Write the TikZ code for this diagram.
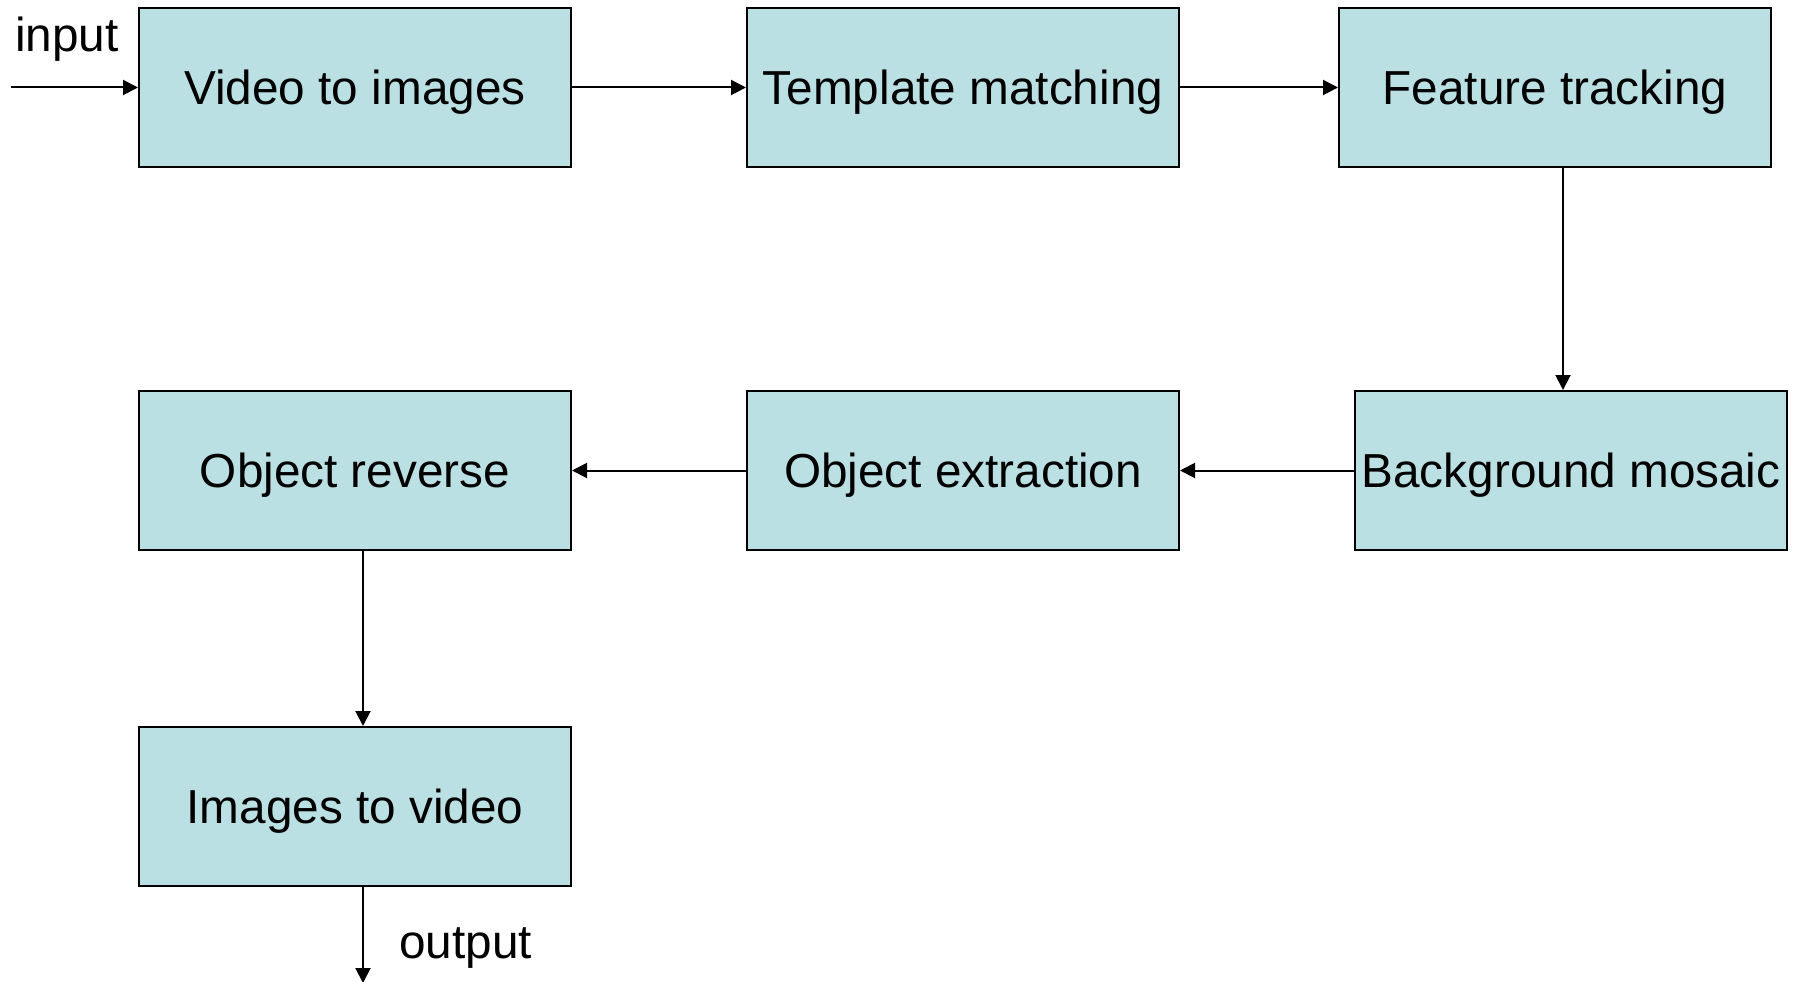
\documentclass[tikz,border=0pt]{standalone}
\usepackage{fontspec}
\setmainfont{Liberation Sans}
\usepackage{xcolor}
\usepackage{tikz}
\usetikzlibrary{positioning, arrows.meta}
\usetikzlibrary{calc}
\definecolor{boxfill}{RGB}{186,224,227}

\begin{document}
\begin{tikzpicture}[
        block/.style={rectangle, minimum width=432pt, minimum height=159pt, inner sep=0pt, text centered, text height=34pt, text depth=0pt, draw=black, line width=2pt, fill=boxfill, font=\fontsize{47.7}{57}\selectfont},
        lbl/.style={inner sep=0pt, font=\fontsize{47.7}{57}\selectfont},
        arrow/.style={line width=2pt, -{Triangle[length=15pt, width=15pt]}}
    ]
        \useasboundingbox (0,0) rectangle (1805pt,-982pt);

        % ===== 第一行 =====
        \node (vid2img) [block] at (355pt,-87.5pt) {Video to images};
        \node (tmatch) [block, right=174pt of vid2img] {Template matching};
        \node (ftrack) [block, right=158pt of tmatch] {Feature tracking};

        % ===== 第二行 =====
        \node (bgmosaic) [block, below=222pt of ftrack, xshift=16pt] {Background mosaic};
        \node (objext) [block, below=222pt of tmatch] {Object extraction};
        \node (objrev) [block, below=222pt of vid2img] {Object reverse};

        % ===== 第三行 =====
        \node (img2vid) [block, below=175pt of objrev] {Images to video};

        % ===== 输入输出 =====
        \coordinate (inStart) at (11pt,-87.5pt);
        \coordinate (ftOut) at ($(ftrack.south)+(8pt,0)$);
        \coordinate (revOut) at ($(objrev.south)+(8pt,0)$);
        \coordinate (i2vOut) at ($(img2vid.south)+(8pt,0)$);
        \coordinate (outEnd) at ($(i2vOut)+(0,-96pt)$);
        \node (inLabel) [lbl, anchor=base west] at (15pt,-52pt) {input};
        \node (outLabel) [lbl, anchor=base west] at (399pt,-958pt) {output};

        % ===== 箭头 =====
        \draw [arrow] (inStart) -- (vid2img.west);
        \draw [arrow] (vid2img.east) -- (tmatch.west);
        \draw [arrow] (tmatch.east) -- (ftrack.west);
        \draw [arrow] (ftOut) -- (ftOut |- bgmosaic.north);
        \draw [arrow] (bgmosaic.west) -- (objext.east);
        \draw [arrow] (objext.west) -- (objrev.east);
        \draw [arrow] (revOut) -- (revOut |- img2vid.north);
        \draw [arrow] (i2vOut) -- (outEnd);

    \end{tikzpicture}
\end{document}
